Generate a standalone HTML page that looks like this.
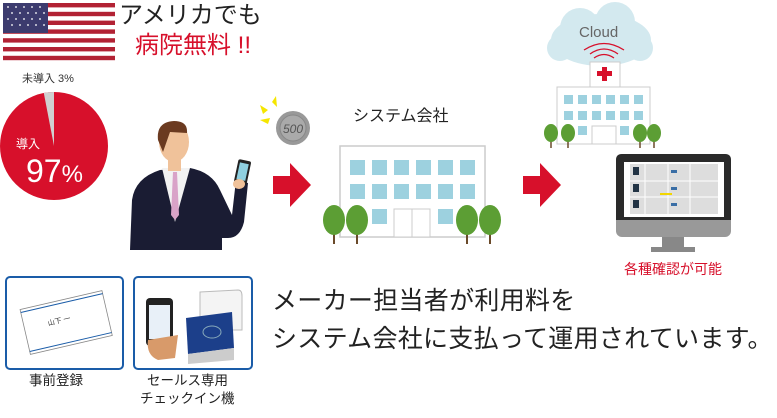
<!DOCTYPE html>
<html><head><meta charset="utf-8"><style>
body{margin:0;background:#fff;width:777px;height:418px;overflow:hidden;position:relative;font-family:"Liberation Sans","Noto Sans CJK JP",sans-serif}
.t{position:absolute;white-space:nowrap;line-height:1}
</style></head><body>
<svg width="777" height="418" style="position:absolute;left:0;top:0">
<g>
<rect x="3" y="3" width="112" height="57" fill="#fff"/>
<g fill="#b22234">
<rect x="3" y="3" width="112" height="4.4"/><rect x="3" y="11.8" width="112" height="4.4"/><rect x="3" y="20.6" width="112" height="4.4"/><rect x="3" y="29.4" width="112" height="4.4"/><rect x="3" y="38.2" width="112" height="4.4"/><rect x="3" y="47" width="112" height="4.4"/><rect x="3" y="55.8" width="112" height="4.4"/>
</g>
<rect x="3" y="3" width="45" height="30" fill="#3c3b6e"/>
<g fill="#fff" opacity="0.8">
<circle cx="8" cy="7" r="1"/><circle cx="16" cy="7" r="1"/><circle cx="24" cy="7" r="1"/><circle cx="32" cy="7" r="1"/><circle cx="40" cy="7" r="1"/>
<circle cx="12" cy="13" r="1"/><circle cx="20" cy="13" r="1"/><circle cx="28" cy="13" r="1"/><circle cx="36" cy="13" r="1"/><circle cx="44" cy="13" r="1"/>
<circle cx="8" cy="19" r="1"/><circle cx="16" cy="19" r="1"/><circle cx="24" cy="19" r="1"/><circle cx="32" cy="19" r="1"/><circle cx="40" cy="19" r="1"/>
<circle cx="12" cy="25" r="1"/><circle cx="20" cy="25" r="1"/><circle cx="28" cy="25" r="1"/><circle cx="36" cy="25" r="1"/><circle cx="44" cy="25" r="1"/>
</g>
</g>
<circle cx="54" cy="146" r="54" fill="#d7102b"/>
<path d="M54 146 L54 92 A54 54 0 0 0 43.8 93 Z" fill="#d0d0d0"/>
<path d="M130 250 L132 200 Q135 178 160 170 L190 168 Q212 172 220 190 L232 215 L236 180 L248 183 L244 222 Q240 238 228 238 L222 238 L222 250 Z" fill="#1a1c33"/>
<path d="M162 168 L175 222 L190 168 Z" fill="#f2f2f2"/>
<path d="M173 172 L177 172 L179 215 L175 220 L171 215 Z" fill="#d9a3c8"/>
<ellipse cx="174" cy="142" rx="15" ry="20" fill="#f0c29a"/>
<rect x="168" y="155" width="13" height="16" fill="#f0c29a"/>
<path d="M158 140 Q156 122 174 121 Q188 121 187 133 L170 132 L163 152 Z" fill="#6b3a20"/>
<rect x="236" y="160" width="13" height="24" rx="2" fill="#222" transform="rotate(12 242 172)"/>
<rect x="238" y="163" width="9" height="17" fill="#8fd0e0" transform="rotate(12 242 172)"/>
<ellipse cx="239" cy="184" rx="6" ry="5" fill="#f0c29a"/>
<circle cx="293" cy="128" r="17" fill="#999"/><circle cx="293" cy="128" r="13" fill="#aaa" stroke="#888"/>
<text x="293" y="133" font-size="12" text-anchor="middle" fill="#555" font-style="italic" font-family="Liberation Sans">500</text>
<g fill="#f5e600"><path d="M260 105 L268 110 L263 114 Z"/><path d="M272 102 L276 96 L277 107 Z"/><path d="M260 120 L270 118 L268 124 Z"/></g>
<path d="M273 176 L290 176 L290 163 L311 185 L290 207 L290 194 L273 194 Z" fill="#d7102b"/>
<path d="M523 176 L540 176 L540 163 L561 185 L540 207 L540 194 L523 194 Z" fill="#d7102b"/>
<rect x="340" y="146" width="145" height="91" fill="#fff" stroke="#ccc" stroke-width="1.5"/>
<g fill="#9dd1df">
<rect x="350" y="160" width="15" height="15"/><rect x="372" y="160" width="15" height="15"/><rect x="394" y="160" width="15" height="15"/><rect x="416" y="160" width="15" height="15"/><rect x="438" y="160" width="15" height="15"/><rect x="460" y="160" width="15" height="15"/>
<rect x="350" y="184" width="15" height="15"/><rect x="372" y="184" width="15" height="15"/><rect x="394" y="184" width="15" height="15"/><rect x="416" y="184" width="15" height="15"/><rect x="438" y="184" width="15" height="15"/><rect x="460" y="184" width="15" height="15"/>
<rect x="372" y="209" width="15" height="15"/><rect x="438" y="209" width="15" height="15"/>
</g>
<rect x="394" y="209" width="18" height="28" fill="#fff" stroke="#ccc"/><rect x="412" y="209" width="18" height="28" fill="#fff" stroke="#ccc"/>
<g stroke="#6a4a2a" stroke-width="2"><line x1="334" y1="222" x2="334" y2="244"/><line x1="357" y1="222" x2="357" y2="244"/><line x1="467" y1="222" x2="467" y2="244"/><line x1="490" y1="222" x2="490" y2="244"/></g>
<g fill="#5c9e34"><ellipse cx="334" cy="220" rx="11" ry="15"/><ellipse cx="357" cy="220" rx="11" ry="15"/><ellipse cx="467" cy="220" rx="11" ry="15"/><ellipse cx="490" cy="220" rx="11" ry="15"/></g>
<g fill="#d3e9ef"><ellipse cx="601" cy="40" rx="50" ry="26"/><circle cx="580" cy="28" r="20"/><circle cx="615" cy="22" r="20"/><circle cx="560" cy="48" r="13"/><circle cx="640" cy="48" r="13"/></g>
<g fill="none" stroke="#d7102b" stroke-width="1.3"><path d="M590 54 Q604 44 618 54"/><path d="M594 58 Q604 51 614 58"/><path d="M584 50 Q604 37 624 50"/></g>
<rect x="590" y="62" width="30" height="26" fill="#fff" stroke="#ccc"/>
<rect x="557" y="87" width="93" height="57" fill="#fff" stroke="#ccc"/>
<rect x="602" y="67" width="5" height="14" fill="#d7102b"/><rect x="597" y="71" width="15" height="5" fill="#d7102b"/>
<g fill="#9dd1df">
<rect x="564" y="95" width="9" height="9"/><rect x="578" y="95" width="9" height="9"/><rect x="592" y="95" width="9" height="9"/><rect x="606" y="95" width="9" height="9"/><rect x="620" y="95" width="9" height="9"/><rect x="634" y="95" width="9" height="9"/>
<rect x="564" y="111" width="9" height="9"/><rect x="578" y="111" width="9" height="9"/><rect x="592" y="111" width="9" height="9"/><rect x="606" y="111" width="9" height="9"/><rect x="620" y="111" width="9" height="9"/><rect x="634" y="111" width="9" height="9"/>
<rect x="578" y="126" width="9" height="9"/><rect x="620" y="126" width="9" height="9"/>
</g>
<rect x="592" y="126" width="24" height="18" fill="#fff" stroke="#ccc"/>
<g stroke="#6a4a2a" stroke-width="1.5"><line x1="551" y1="134" x2="551" y2="148"/><line x1="568" y1="134" x2="568" y2="148"/><line x1="640" y1="134" x2="640" y2="148"/><line x1="654" y1="134" x2="654" y2="148"/></g>
<g fill="#5c9e34"><ellipse cx="551" cy="133" rx="7" ry="9"/><ellipse cx="568" cy="133" rx="7" ry="9"/><ellipse cx="640" cy="133" rx="7" ry="9"/><ellipse cx="654" cy="133" rx="7" ry="9"/></g>
<rect x="662" y="236" width="22" height="12" fill="#888"/>
<rect x="651" y="247" width="44" height="5" fill="#888"/>
<rect x="616" y="154" width="115" height="83" rx="6" fill="#999"/>
<path d="M622 154 L725 154 Q731 154 731 160 L731 220 L616 220 L616 160 Q616 154 622 154 Z" fill="#2a2a2a"/>
<rect x="624" y="162" width="100" height="55" fill="#fff"/>
<rect x="630" y="164" width="88" height="50" fill="#ddd"/>
<g stroke="#fff" stroke-width="1"><line x1="645" y1="164" x2="645" y2="214"/><line x1="668" y1="164" x2="668" y2="214"/><line x1="690" y1="164" x2="690" y2="214"/><line x1="630" y1="181" x2="718" y2="181"/><line x1="630" y1="197" x2="718" y2="197"/></g>
<g fill="#3a6ea5"><rect x="671" y="170" width="6" height="3"/><rect x="671" y="187" width="6" height="3"/><rect x="671" y="203" width="6" height="3"/></g>
<g fill="#234"><rect x="633" y="167" width="6" height="8"/><rect x="633" y="184" width="6" height="8"/><rect x="633" y="200" width="6" height="8"/></g>
<rect x="660" y="193" width="12" height="2" fill="#f2d600"/>
<rect x="6" y="277" width="117" height="92" rx="4" fill="#fff" stroke="#1a5ca8" stroke-width="2"/>
<rect x="134" y="277" width="118" height="92" rx="4" fill="#fff" stroke="#1a5ca8" stroke-width="2"/>
<g transform="rotate(-13 64 322)"><rect x="24" y="300" width="84" height="46" fill="#fff" stroke="#888" stroke-width="0.8"/><line x1="24" y1="303" x2="108" y2="303" stroke="#1a5ca8"/><line x1="24" y1="343" x2="108" y2="343" stroke="#1a5ca8"/>
<text x="48" y="322" font-size="7" fill="#333">山下 一</text></g>
<rect x="146" y="298" width="27" height="48" rx="4" fill="#222"/><rect x="149" y="305" width="21" height="34" fill="#e8f0f8"/>
<path d="M148 340 Q146 355 158 360 L175 358 L178 335 Z" fill="#d89a6a"/>
<path d="M200 292 L238 290 Q242 290 242 296 L242 330 L200 330 Z" fill="#f4f4f4" stroke="#bbb"/>
<path d="M186 318 L232 312 L234 348 L188 354 Z" fill="#1c3f8a"/>
<path d="M188 354 L234 348 L234 360 L188 364 Z" fill="#ccc"/>
<ellipse cx="212" cy="332" rx="9" ry="6" fill="none" stroke="#8ab"/>
</svg>
<div class="t" style="left:119px;top:4px;font-size:24px;color:#222">アメリカでも</div>
<div class="t" style="left:135px;top:34px;font-size:24px;color:#d7102b">病院無料 !!</div>
<div class="t" style="left:22px;top:74px;font-size:11px;color:#333">未導入 3%</div>
<div class="t" style="left:16px;top:138px;font-size:12px;color:#fff">導入</div>
<div class="t" style="left:26px;top:155px;font-size:32px;color:#fff">97<span style="font-size:24px">%</span></div>
<div class="t" style="left:353px;top:109px;font-size:16px;color:#222">システム会社</div>
<div class="t" style="left:579px;top:25px;font-size:15px;color:#666">Cloud</div>
<div class="t" style="left:624px;top:262px;font-size:14px;color:#d7102b">各種確認が可能</div>
<div class="t" style="left:272px;top:289px;font-size:25px;color:#222;letter-spacing:0.3px">メーカー担当者が利用料を</div>
<div class="t" style="left:272px;top:327px;font-size:25px;color:#222;letter-spacing:0.3px">システム会社に支払って運用されています。</div>
<div class="t" style="left:29px;top:374px;font-size:13.5px;color:#222">事前登録</div>
<div class="t" style="left:147px;top:374px;font-size:13.5px;color:#222">セールス専用</div>
<div class="t" style="left:140px;top:392px;font-size:13.5px;color:#222">チェックイン機</div>
</body></html>
